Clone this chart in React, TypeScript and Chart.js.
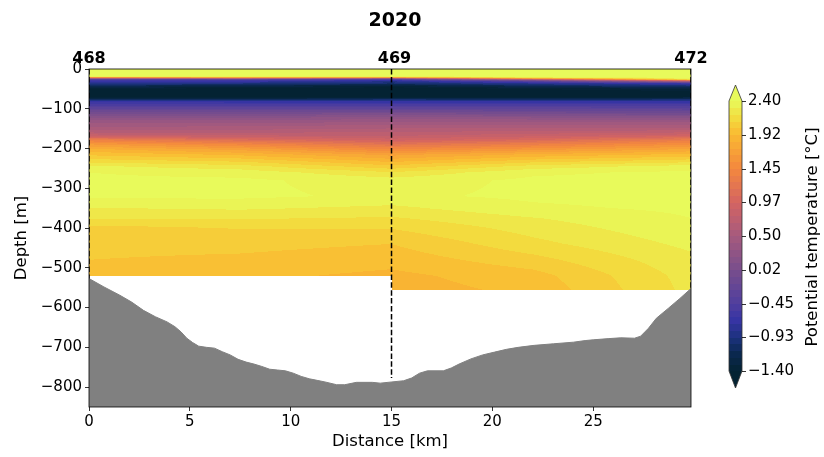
import React, { useEffect, useRef } from 'react';
import { Chart, registerables } from 'chart.js';
Chart.register(...registerables);

// ---------- data ----------
const TITLE = '2020';
const STATION_NAMES = ['468', '469', '472'];
const STATION_KM = [0, 15, 29.85];
const STATION_CAST_DEPTH = [527, 777, 555];

const SECTION_START_KM = [0, 15];
const SECTION_END_KM = [15, 29.85];
const SECTION_BOTTOM_M = [520, 555];

const PROFILE_KM = [0, 7.5, 15, 22, 29.85];
const PROFILE_DEPTH = [0, 16, 19, 21, 23, 26, 30, 36, 42, 50, 60, 70, 76, 82, 90, 100, 112, 125, 140, 155, 168, 178, 190, 202, 215, 230, 245, 260, 280, 320, 350, 375, 400, 440, 480, 520, 555];
const TEMP_0KM = [2.5, 2.45, 2.3, 1.6, 0.8, -0.4, -0.65, -0.85, -1.1, -1.4, -1.5, -1.45, -1.15, -0.65, -0.5, -0.25, 0.0, 0.25, 0.45, 0.6, 0.85, 1.35, 1.65, 1.85, 2.0, 2.15, 2.32, 2.4, 2.42, 2.42, 2.3, 2.22, 2.08, 2.05, 2.02, 1.98, 1.98];
const TEMP_7KM = [2.5, 2.45, 2.35, 1.9, 1.0, -0.3, -0.65, -0.9, -1.2, -1.45, -1.5, -1.45, -1.15, -0.7, -0.5, -0.25, 0.0, 0.25, 0.45, 0.62, 0.8, 1.1, 1.45, 1.7, 1.9, 2.08, 2.25, 2.36, 2.42, 2.42, 2.32, 2.22, 2.12, 2.05, 2.0, 1.95, 1.95];
const TEMP_15KM = [2.5, 2.45, 2.38, 1.9, 0.7, -0.4, -0.8, -1.0, -1.3, -1.5, -1.5, -1.45, -1.05, -0.7, -0.5, -0.25, 0.05, 0.3, 0.5, 0.65, 0.78, 0.92, 1.2, 1.45, 1.7, 1.88, 2.05, 2.22, 2.35, 2.38, 2.28, 2.2, 2.12, 2.02, 1.96, 1.9, 1.88];
const TEMP_22KM = [2.5, 2.45, 2.42, 2.35, 2.0, 0.8, -0.3, -0.8, -1.1, -1.4, -1.5, -1.45, -1.1, -0.7, -0.5, -0.28, 0.0, 0.28, 0.5, 0.68, 0.85, 1.05, 1.35, 1.6, 1.85, 2.05, 2.25, 2.38, 2.42, 2.42, 2.38, 2.3, 2.25, 2.18, 2.08, 1.98, 1.95];
const TEMP_30KM = [2.5, 2.48, 2.45, 2.45, 2.42, 2.3, 0.8, -0.6, -0.95, -1.3, -1.5, -1.4, -1.05, -0.7, -0.5, -0.3, -0.05, 0.25, 0.5, 0.7, 0.95, 1.3, 1.55, 1.75, 1.95, 2.15, 2.35, 2.42, 2.44, 2.44, 2.42, 2.4, 2.38, 2.33, 2.28, 2.25, 2.24];
const PROFILE_TEMPS = [TEMP_0KM, TEMP_7KM, TEMP_15KM, TEMP_22KM, TEMP_30KM];

const BATHY_KM = [0, 0.74, 1.53, 2.11, 2.7, 3.29, 3.87, 4.26, 4.56, 4.85, 5.14, 5.44, 5.83, 6.22, 6.61, 7.0, 7.39, 7.79, 8.18, 8.57, 8.96, 9.35, 9.74, 10.13, 10.52, 10.92, 11.31, 11.7, 12.28, 12.68, 13.26, 14.05, 14.44, 15.02, 15.6, 16.0, 16.39, 16.78, 17.57, 17.96, 18.35, 18.94, 19.52, 20.11, 20.7, 21.28, 22.07, 23.04, 24.02, 24.6, 25.0, 25.78, 26.37, 27.05, 27.35, 27.74, 28.13, 28.72, 29.3, 29.85];
const BATHY_DEPTH = [527, 548, 569, 586, 607, 623, 636, 648, 661, 677, 688, 697, 700, 702, 711, 719, 730, 737, 742, 748, 755, 757, 759, 765, 773, 779, 783, 787, 794, 794, 788, 788, 790, 787, 784, 777, 765, 759, 759, 752, 742, 729, 719, 712, 705, 700, 695, 691, 687, 683, 681, 678, 676, 677, 672, 652, 627, 602, 577, 552];

const X_TICKS = [0, 5, 10, 15, 20, 25];
const Y_TICKS = [0, -100, -200, -300, -400, -500, -600, -700, -800];
const CB_TICKS = [2.4, 1.925, 1.45, 0.975, 0.5, 0.025, -0.45, -0.925, -1.4];
const CB_LABELS = ['2.40', '1.92', '1.45', '0.97', '0.50', '0.02', '\u22120.45', '\u22120.93', '\u22121.40'];
const LEVEL_MIN = -1.4;
const LEVEL_MAX = 2.4;
const N_LEVELS = 40;

// ---------- style ----------
const FONT = 'DejaVu Sans';
const TICK_SIZE = 15;
const LABEL_SIZE = 16.5;
const CMAP_POS = [0, 0.0625, 0.125, 0.19, 0.25, 0.375, 0.5, 0.625, 0.75, 0.875, 0.94, 1];
const CMAP_RGB = [[4, 35, 51], [10, 40, 78], [28, 50, 125], [55, 52, 165], [80, 62, 158], [120, 78, 140], [165, 90, 126], [212, 100, 98], [243, 135, 62], [250, 185, 50], [243, 220, 62], [232, 250, 91]];

function cmap(t: number): number[] {
  const v = Math.max(0, Math.min(1, t));
  let i = 0;
  while (i < CMAP_POS.length - 2 && v > CMAP_POS[i + 1]) i++;
  const f = (v - CMAP_POS[i]) / (CMAP_POS[i + 1] - CMAP_POS[i]);
  const a = CMAP_RGB[i], b = CMAP_RGB[i + 1];
  return [0, 1, 2].map(k => Math.round(a[k] + (b[k] - a[k]) * f));
}

const STEP = (LEVEL_MAX - LEVEL_MIN) / N_LEVELS;
const PALETTE: number[][] = [];
for (let k = 0; k < N_LEVELS; k++) PALETTE.push(cmap((k + 0.5) / N_LEVELS));
const COLOR_UNDER = cmap(0);
const COLOR_OVER = cmap(1);

function levelColor(T: number): number[] {
  if (T < LEVEL_MIN) return COLOR_UNDER;
  if (T >= LEVEL_MAX) return COLOR_OVER;
  const k = Math.min(N_LEVELS - 1, Math.floor((T - LEVEL_MIN) / STEP));
  return PALETTE[k];
}

function tempAt(km: number, d: number): number {
  let c = 0;
  while (c < PROFILE_KM.length - 2 && km > PROFILE_KM[c + 1]) c++;
  const tx = Math.max(0, Math.min(1, (km - PROFILE_KM[c]) / (PROFILE_KM[c + 1] - PROFILE_KM[c])));
  let r = 0;
  while (r < PROFILE_DEPTH.length - 2 && d > PROFILE_DEPTH[r + 1]) r++;
  const ty = Math.max(0, Math.min(1, (d - PROFILE_DEPTH[r]) / (PROFILE_DEPTH[r + 1] - PROFILE_DEPTH[r])));
  const A = PROFILE_TEMPS[c], B = PROFILE_TEMPS[c + 1];
  const left = A[r] + (A[r + 1] - A[r]) * ty;
  const right = B[r] + (B[r + 1] - B[r]) * ty;
  return left + (right - left) * tx;
}

const heatmapPlugin = {
  id: 'heatmap',
  beforeDatasetsDraw(chart: any) {
    const { ctx, chartArea: a, scales } = chart;
    const xs = scales.x, ys = scales.y;
    const w = Math.round(a.right - a.left), h = Math.round(a.bottom - a.top);
    const off = document.createElement('canvas');
    off.width = w; off.height = h;
    const octx = off.getContext('2d')!;
    const img = octx.createImageData(w, h);
    const kms: number[] = [];
    const bottoms: number[] = [];
    for (let i = 0; i < w; i++) {
      const km = xs.getValueForPixel(a.left + i + 0.5);
      kms.push(km);
      let b = -1;
      for (let s = 0; s < SECTION_START_KM.length; s++) {
        if (km >= SECTION_START_KM[s] && km <= SECTION_END_KM[s]) b = SECTION_BOTTOM_M[s];
      }
      bottoms.push(b);
    }
    for (let j = 0; j < h; j++) {
      const d = -ys.getValueForPixel(a.top + j + 0.5);
      for (let i = 0; i < w; i++) {
        if (d > bottoms[i]) continue;
        const col = levelColor(tempAt(kms[i], d));
        const p = (j * w + i) * 4;
        img.data[p] = col[0]; img.data[p + 1] = col[1]; img.data[p + 2] = col[2]; img.data[p + 3] = 255;
      }
    }
    octx.putImageData(img, 0, 0);
    ctx.save();
    ctx.drawImage(off, a.left, a.top);
    ctx.restore();
  },
};

const CB_X0 = 729, CB_X1 = 742, CB_Y_TOP = 101, CB_Y_BOT = 371, CB_TIP_TOP = 85, CB_TIP_BOT = 388;

const overlayPlugin = {
  id: 'overlay',
  afterDraw(chart: any) {
    const { ctx, chartArea: a, scales } = chart;
    const xs = scales.x;
    ctx.save();
    // frame
    ctx.strokeStyle = '#000';
    ctx.lineWidth = 0.8;
    ctx.strokeRect(a.left, a.top, a.right - a.left, a.bottom - a.top);
    // title
    ctx.fillStyle = '#000';
    ctx.font = `bold 19px ${FONT}`;
    ctx.textAlign = 'center';
    ctx.textBaseline = 'alphabetic';
    ctx.fillText(TITLE, 395, 26);
    // station labels
    ctx.font = `bold 16px ${FONT}`;
    STATION_NAMES.forEach((n, i) => {
      ctx.fillText(n, xs.getPixelForValue(STATION_KM[i]) + (i === 1 ? 3 : 0), 62.5);
    });
    // colorbar
    const vy = (v: number) => CB_Y_TOP + (LEVEL_MAX - v) / (LEVEL_MAX - LEVEL_MIN) * (CB_Y_BOT - CB_Y_TOP);
    for (let k = 0; k < N_LEVELS; k++) {
      const c = PALETTE[k];
      const y0 = vy(LEVEL_MIN + (k + 1) * STEP), y1 = vy(LEVEL_MIN + k * STEP);
      ctx.fillStyle = `rgb(${c[0]},${c[1]},${c[2]})`;
      ctx.fillRect(CB_X0, Math.floor(y0), CB_X1 - CB_X0, Math.ceil(y1) - Math.floor(y0));
    }
    const cx = (CB_X0 + CB_X1) / 2;
    ctx.fillStyle = `rgb(${COLOR_OVER.join(',')})`;
    ctx.beginPath(); ctx.moveTo(CB_X0, CB_Y_TOP); ctx.lineTo(cx, CB_TIP_TOP); ctx.lineTo(CB_X1, CB_Y_TOP); ctx.closePath(); ctx.fill();
    ctx.fillStyle = `rgb(${COLOR_UNDER.join(',')})`;
    ctx.beginPath(); ctx.moveTo(CB_X0, CB_Y_BOT); ctx.lineTo(cx, CB_TIP_BOT); ctx.lineTo(CB_X1, CB_Y_BOT); ctx.closePath(); ctx.fill();
    ctx.strokeStyle = '#333';
    ctx.lineWidth = 0.8;
    ctx.beginPath();
    ctx.moveTo(CB_X0, CB_Y_TOP); ctx.lineTo(cx, CB_TIP_TOP); ctx.lineTo(CB_X1, CB_Y_TOP);
    ctx.lineTo(CB_X1, CB_Y_BOT); ctx.lineTo(cx, CB_TIP_BOT); ctx.lineTo(CB_X0, CB_Y_BOT); ctx.closePath();
    ctx.stroke();
    ctx.strokeStyle = '#000';
    ctx.fillStyle = '#000';
    ctx.font = `${TICK_SIZE}px ${FONT}`;
    ctx.textAlign = 'left';
    ctx.textBaseline = 'middle';
    CB_TICKS.forEach((v, i) => {
      const y = Math.round(vy(v)) + 0.5;
      ctx.beginPath(); ctx.moveTo(CB_X1, y); ctx.lineTo(CB_X1 + 4, y); ctx.stroke();
      ctx.fillText(CB_LABELS[i], CB_X1 + 6, y);
    });
    ctx.font = `${LABEL_SIZE}px ${FONT}`;
    ctx.translate(813, 237);
    ctx.rotate(-Math.PI / 2);
    ctx.textAlign = 'center';
    ctx.fillText('Potential temperature [\u00b0C]', 0, 0);
    ctx.restore();
  },
};

export default function App() {
  const ref = useRef<HTMLCanvasElement>(null);
  useEffect(() => {
    if (!ref.current) return;
    Chart.defaults.font.family = FONT;
    Chart.defaults.color = '#000';
    const bathy = BATHY_KM.map((k, i) => ({ x: k, y: -BATHY_DEPTH[i] }));
    const stationSets = STATION_KM.map((k, i) => ({
      type: 'line' as const,
      label: STATION_NAMES[i],
      data: [{ x: k, y: 0 }, { x: k, y: -STATION_CAST_DEPTH[i] }],
      borderColor: '#000',
      borderWidth: 1.5,
      borderDash: [5.5, 2.4],
      pointRadius: 0,
      fill: false,
      order: 1,
    }));
    const chart = new Chart(ref.current, {
      type: 'line',
      data: {
        datasets: [
          ...stationSets,
          {
            label: 'bathymetry',
            data: bathy,
            borderColor: '#808080',
            backgroundColor: '#808080',
            borderWidth: 1,
            pointRadius: 0,
            fill: 'start',
            tension: 0,
            order: 2,
          } as any,
        ],
      },
      options: {
        responsive: false,
        maintainAspectRatio: false,
        animation: false,
        devicePixelRatio: 1,
        layout: { padding: { top: 69, right: 133, bottom: 0, left: 0 } },
        plugins: { legend: { display: false }, tooltip: { enabled: false }, title: { display: false } },
        scales: {
          x: {
            type: 'linear',
            min: 0,
            max: 29.85,
            afterBuildTicks: (s: any) => { s.ticks = X_TICKS.map(v => ({ value: v })); },
            afterFit: (s: any) => { s.height = 50; },
            ticks: { font: { size: TICK_SIZE }, padding: 2, color: '#000', maxRotation: 0, callback: (v: any) => String(v) },
            grid: { display: true, drawOnChartArea: false, drawTicks: true, tickLength: 4, color: '#000', lineWidth: 0.8 },
            border: { display: false },
            title: { display: true, text: 'Distance [km]', font: { size: LABEL_SIZE }, color: '#000', padding: { top: 0, bottom: 5 } },
          },
          y: {
            type: 'linear',
            min: -850,
            max: 0,
            afterBuildTicks: (s: any) => { s.ticks = Y_TICKS.map(v => ({ value: v })); },
            afterFit: (s: any) => { s.width = 89; },
            ticks: { font: { size: TICK_SIZE }, padding: 3, color: '#000', callback: (v: any) => (v < 0 ? '\u2212' + Math.abs(v) : String(v)) },
            grid: { display: true, drawOnChartArea: false, drawTicks: true, tickLength: 4, color: '#000', lineWidth: 0.8 },
            border: { display: false },
            title: { display: true, text: 'Depth [m]', font: { size: LABEL_SIZE }, color: '#000', padding: { top: 12, bottom: 0 } },
          },
        },
      },
      plugins: [heatmapPlugin, overlayPlugin],
    });
    return () => chart.destroy();
  }, []);
  return (
    <div style={{ position: 'absolute', left: 0, top: 0, width: 824, height: 457, background: '#fff' }}>
      <canvas ref={ref} width={824} height={457} style={{ display: 'block' }} />
    </div>
  );
}
